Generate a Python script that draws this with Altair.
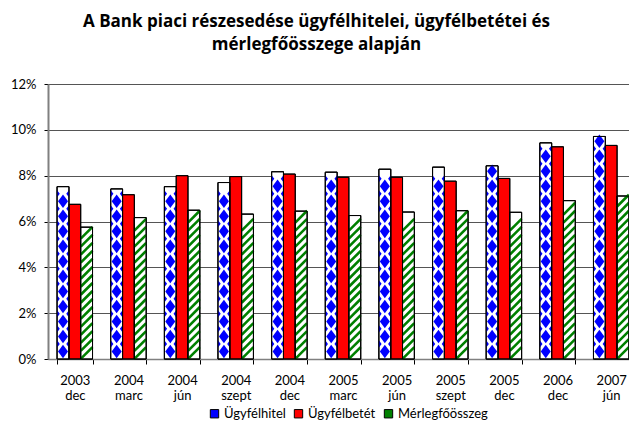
import altair as alt
import pandas as pd

categories = ["2003 dec", "2004 marc", "2004 jún", "2004 szept", "2004 dec",
              "2005 marc", "2005 jún", "2005 szept", "2005 dec", "2006 dec", "2007 jún"]
series_names = ["Ügyfélhitel", "Ügyfélbetét", "Mérlegfőösszeg"]
hitel = [7.52, 7.42, 7.52, 7.70, 8.17, 8.15, 8.28, 8.37, 8.43, 9.43, 9.71]
betet = [6.75, 7.17, 8.00, 7.96, 8.07, 7.93, 7.93, 7.76, 7.88, 9.26, 9.32]
merleg = [5.75, 6.17, 6.49, 6.32, 6.45, 6.26, 6.41, 6.47, 6.40, 6.91, 7.11]
y_ticks = [0, 2, 4, 6, 8, 10, 12]

rows = []
for s, vals in zip(series_names, [hitel, betet, merleg]):
    for c, v in zip(categories, vals):
        rows.append({"cat": c, "series": s, "value": v})
df = pd.DataFrame(rows)

FONT = "Lato"
PW, PH = 581, 275

x_enc = alt.X("cat:N", sort=categories,
              scale=alt.Scale(domain=categories, range=[0, 590], paddingInner=0.34, paddingOuter=0.17),
              axis=alt.Axis(title=None, labelExpr="split(datum.label, ' ')", labelAngle=0,
                            tickBand="extent", tickSize=5, tickColor="#000000", domainColor="#808080",
                            domainWidth=1.5, labelFont=FONT, labelFontSize=13, labelColor="#000000",
                            labelPadding=10, labelLineHeight=15, labelBaseline="top"))
xo_enc = alt.XOffset("series:N", sort=series_names,
                     scale=alt.Scale(domain=series_names, paddingInner=0, paddingOuter=0))
y_enc = alt.Y("value:Q", scale=alt.Scale(domain=[0, 12], nice=False),
              axis=alt.Axis(title=None, values=y_ticks, labelExpr="datum.value + '%'",
                            grid=True, gridColor="#555555", gridWidth=1, tickSize=4,
                            tickColor="#000000", domainColor="#808080", domainWidth=2,
                            labelFont=FONT, labelFontSize=13, labelColor="#000000", labelPadding=8))

base = alt.Chart(df)

colored = base.mark_bar(stroke="black", strokeWidth=1).encode(
    x=x_enc, xOffset=xo_enc, y=y_enc,
    color=alt.Color("series:N", sort=series_names,
                    scale=alt.Scale(domain=series_names, range=["#0000FF", "#FF0000", "#008000"]),
                    legend=alt.Legend(title=None, orient="none", direction="horizontal",
                                      legendX=160, legendY=323, symbolType="square", symbolSize=70,
                                      symbolStrokeColor="#000000", symbolStrokeWidth=1,
                                      labelFont=FONT, labelFontSize=13, labelColor="#000000",
                                      columnPadding=6, labelOffset=3))
)

white = base.transform_filter(
    "datum.series != 'Ügyfélbetét'"
).mark_bar(fill="white", stroke="black", strokeWidth=1).encode(x=x_enc, xOffset=xo_enc, y=y_enc)

diamonds = base.transform_filter(
    "datum.series == 'Ügyfélhitel'"
).transform_calculate(
    pos="sequence(0.33, datum.value - 0.2, 0.655)"
).transform_flatten(["pos"]).mark_point(
    shape="M0,-1.15L0.85,0L0,1.15L-0.85,0Z", filled=True, fill="#0000FF", strokeWidth=0, size=139, opacity=1
).encode(x=x_enc, xOffset=xo_enc, y=alt.Y("pos:Q"))

half_diamonds = base.transform_filter(
    "datum.series == 'Ügyfélhitel'"
).transform_calculate(
    pos="sequence(0.66, datum.value - 0.2, 0.655)"
).transform_flatten(["pos"]).mark_point(
    shape="M-1,-0.6L-0.55,0L-1,0.6Z M1,-0.6L0.55,0L1,0.6Z", filled=True, fill="#0000FF",
    strokeWidth=0, size=139, opacity=1
).encode(x=x_enc, xOffset=xo_enc, y=alt.Y("pos:Q"))

stripes = base.transform_filter(
    "datum.series == 'Mérlegfőösszeg'"
).transform_calculate(
    pos="sequence(0.26, datum.value - 0.2, 0.35)"
).transform_flatten(["pos"]).mark_point(
    shape="M-1,1L1,-1", filled=False, stroke="#008000", strokeWidth=2.6, size=139, opacity=1
).encode(x=x_enc, xOffset=xo_enc, y=alt.Y("pos:Q"))

outline = base.mark_bar(fillOpacity=0, stroke="black", strokeWidth=1).encode(
    x=x_enc, xOffset=xo_enc, y=y_enc)

chart = alt.layer(colored, white, diamonds, half_diamonds, stripes, outline).properties(
    width=PW, height=PH,
    title=alt.Title(text=["A Bank piaci részesedése ügyfélhitelei, ügyfélbetétei és",
                          "mérlegfőösszege alapján"],
                    font="Open Sans", fontSize=17, fontWeight="bold", color="#000000",
                    anchor="middle", dx=-22, offset=24, lineHeight=23),
    autosize=alt.AutoSizeParams(type="none"),
    padding={"left": 40, "top": 76, "right": 0, "bottom": 64},
).configure_view(stroke=None)

chart.save("out.html", embed_options={"renderer": "svg", "actions": False})
